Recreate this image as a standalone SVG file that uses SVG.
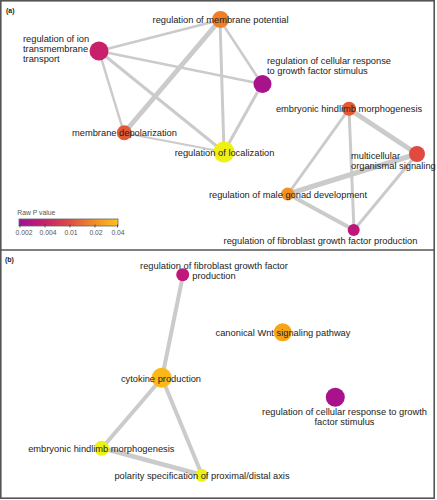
<svg xmlns="http://www.w3.org/2000/svg" width="437" height="500" viewBox="0 0 437 500">
<defs>
<style>
.e{stroke:#CBCBCB;fill:none;stroke-linecap:round}
.t{font-family:"Liberation Sans",Arial,sans-serif;font-size:9.3px;fill:#222}
.m{text-anchor:middle}
.lg{font-family:"Liberation Sans",Arial,sans-serif;font-size:6.8px;fill:#555}
.pl{font-family:"Liberation Sans",Arial,sans-serif;font-size:7px;font-weight:bold;fill:#222}
.fr{fill:none;stroke:#555;stroke-width:1.6}
</style>
<linearGradient id="pg" x1="0" y1="0" x2="1" y2="0">
<stop offset="0" stop-color="#A0109A"/>
<stop offset="0.25" stop-color="#C4206E"/>
<stop offset="0.5" stop-color="#DC4A45"/>
<stop offset="0.75" stop-color="#F08A28"/>
<stop offset="1" stop-color="#FFC21A"/>
</linearGradient>
</defs>
<rect width="437" height="500" fill="#fff"/>
<rect class="fr" x="0.8" y="0.8" width="433.4" height="497.4"/>
<line x1="0" y1="250" x2="435" y2="250" stroke="#555" stroke-width="1.6"/>
<text class="pl" x="6" y="12.5">(a)</text>
<text class="pl" x="5" y="262">(b)</text>

<g id="connectors">
<line class="e" x1="99" y1="51" x2="220" y2="20" stroke-width="2.5"/>
<line class="e" x1="99" y1="51" x2="262" y2="84" stroke-width="2.5"/>
<line class="e" x1="99" y1="51" x2="124" y2="133" stroke-width="2.5"/>
<line class="e" x1="99" y1="51" x2="224" y2="152" stroke-width="3"/>
<line class="e" x1="220" y1="20" x2="262" y2="84" stroke-width="2.5"/>
<line class="e" x1="220" y1="20" x2="124" y2="133" stroke-width="5"/>
<line class="e" x1="220" y1="20" x2="224" y2="152" stroke-width="3"/>
<line class="e" x1="262" y1="84" x2="224" y2="152" stroke-width="3"/>
<line class="e" x1="124" y1="133" x2="224" y2="152" stroke-width="2"/>
<line class="e" x1="349" y1="109" x2="417" y2="154" stroke-width="5"/>
<line class="e" x1="349" y1="109" x2="288" y2="194" stroke-width="3"/>
<line class="e" x1="349" y1="109" x2="354" y2="230" stroke-width="3"/>
<line class="e" x1="288" y1="194" x2="417" y2="154" stroke-width="5"/>
<line class="e" x1="288" y1="194" x2="354" y2="230" stroke-width="4"/>
<line class="e" x1="417" y1="154" x2="354" y2="230" stroke-width="3"/>
<line class="e" x1="183" y1="275" x2="162" y2="378" stroke-width="4"/>
<line class="e" x1="162" y1="378" x2="102" y2="448" stroke-width="4"/>
<line class="e" x1="162" y1="378" x2="202" y2="475" stroke-width="4"/>
<line class="e" x1="102" y1="448" x2="202" y2="475" stroke-width="4.5"/>
</g>

<g id="a_membrane_potential"><circle cx="220.5" cy="19.5" r="8.5" fill="#F07F2A"/><text class="t m" x="220.5" y="23">regulation of membrane potential</text></g>
<g id="a_ion_transport"><circle cx="99" cy="51" r="9.5" fill="#C8206A"/><text class="t" x="23" y="42.3">regulation of ion</text><text class="t" x="23" y="52.3">transmembrane</text><text class="t" x="23" y="62.3">transport</text></g>
<g id="a_cellular_response"><circle cx="262.5" cy="84" r="9" fill="#A8128A"/><text class="t" x="267" y="64.3">regulation of cellular response</text><text class="t" x="267" y="74.3">to growth factor stimulus</text></g>
<g id="a_hindlimb"><circle cx="349" cy="108.7" r="7" fill="#E55A30"/><text class="t m" x="349" y="112">embryonic hindlimb morphogenesis</text></g>
<g id="a_depolarization"><circle cx="124.3" cy="132.7" r="7.5" fill="#E05A35"/><text class="t m" x="124.5" y="136.2">membrane depolarization</text></g>
<g id="a_localization"><circle cx="224" cy="152" r="10.5" fill="#F0F014"/><text class="t m" x="224.5" y="155.5">regulation of localization</text></g>
<g id="a_multicellular"><circle cx="417" cy="154" r="8" fill="#E04A40"/><text class="t" x="351" y="158.5">multicellular</text><text class="t" x="351" y="169">organismal signaling</text></g>
<g id="a_male_gonad"><circle cx="287.7" cy="194" r="6.5" fill="#F39020"/><text class="t m" x="288" y="197.5">regulation of male gonad development</text></g>
<g id="a_fibroblast"><circle cx="353.7" cy="230" r="6" fill="#C0157A"/><text class="t m" x="320.5" y="244">regulation of fibroblast growth factor production</text></g>

<g id="legend">
<text class="lg" x="17.3" y="214.5">Raw P value</text>
<rect x="19" y="219" width="99" height="7" fill="url(#pg)" stroke="#666" stroke-width="0.8"/>
<g stroke="#333" stroke-width="0.7">
<line x1="20" y1="224.5" x2="20" y2="227.5"/>
<line x1="45" y1="224.5" x2="45" y2="227.5"/>
<line x1="70" y1="224.5" x2="70" y2="227.5"/>
<line x1="95" y1="224.5" x2="95" y2="227.5"/>
<line x1="117.5" y1="224.5" x2="117.5" y2="227.5"/>
</g>
<text class="lg m" x="24" y="234.5">0.002</text>
<text class="lg m" x="48" y="234.5">0.004</text>
<text class="lg m" x="71" y="234.5">0.01</text>
<text class="lg m" x="96" y="234.5">0.02</text>
<text class="lg m" x="118" y="234.5">0.04</text>
</g>

<g id="b_fibroblast"><circle cx="182.7" cy="274.7" r="6.5" fill="#C0187A"/><text class="t m" x="214" y="269">regulation of fibroblast growth factor</text><text class="t m" x="214" y="279">production</text></g>
<g id="b_wnt"><circle cx="282.7" cy="332.3" r="9" fill="#F5A516"/><text class="t m" x="283" y="336">canonical Wnt signaling pathway</text></g>
<g id="b_cytokine"><circle cx="161.7" cy="377.7" r="10" fill="#FBB817"/><text class="t m" x="161" y="382">cytokine production</text></g>
<g id="b_cellular_response"><circle cx="335.3" cy="397.3" r="9.5" fill="#A8128A"/><text class="t m" x="344.5" y="415">regulation of cellular response to growth</text><text class="t m" x="344.5" y="425">factor stimulus</text></g>
<g id="b_hindlimb"><circle cx="101.7" cy="448.3" r="7.5" fill="#EEF214"/><text class="t m" x="101.3" y="452">embryonic hindlimb morphogenesis</text></g>
<g id="b_polarity"><circle cx="201.7" cy="475.3" r="6.5" fill="#EEF214"/><text class="t m" x="202" y="479">polarity specification of proximal/distal axis</text></g>
</svg>
